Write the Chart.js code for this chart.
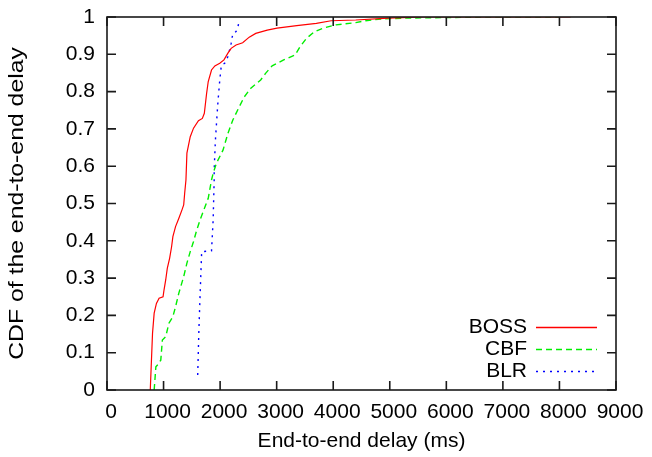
<!DOCTYPE html>
<html>
<head>
<meta charset="utf-8">
<script src="https://cdn.jsdelivr.net/npm/chart.js@4/dist/chart.umd.min.js"></script>
<style>
  html, body { margin: 0; padding: 0; background: #fff; }
  #wrap { width: 652px; height: 457px; }
</style>
</head>
<body>
<div id="wrap"><canvas id="c" width="652" height="457"></canvas></div>
<script>
// End-to-end delay CDF for three schemes
const bossDelay = [765, 805, 834, 874, 921, 991, 1008, 1038, 1066, 1107, 1142, 1165, 1212, 1269, 1326, 1356, 1373, 1396, 1413, 1472, 1530, 1617, 1686, 1721, 1761, 1790, 1848, 1907, 1994, 2068, 2138, 2195, 2282, 2399, 2515, 2630, 2833, 3007, 3355, 3702, 3963, 4398, 4971, 5600, 8200];
const bossCdf   = [0, 0.152, 0.206, 0.232, 0.246, 0.250, 0.268, 0.295, 0.326, 0.353, 0.384, 0.411, 0.438, 0.460, 0.483, 0.496, 0.527, 0.563, 0.635, 0.679, 0.702, 0.722, 0.728, 0.742, 0.795, 0.827, 0.858, 0.869, 0.876, 0.885, 0.903, 0.916, 0.925, 0.931, 0.946, 0.956, 0.965, 0.970, 0.977, 0.983, 0.990, 0.992, 0.997, 1.0, 1.0];

const cbfDelay = [834, 864, 892, 951, 979, 1038, 1095, 1165, 1212, 1269, 1356, 1413, 1472, 1530, 1587, 1646, 1733, 1790, 1848, 1877, 1935, 2051, 2138, 2225, 2341, 2428, 2543, 2717, 2804, 2920, 3124, 3325, 3412, 3529, 3673, 3819, 4050, 4398, 4571, 4862, 5267, 6800, 8000];
const cbfCdf   = [0, 0.062, 0.067, 0.080, 0.134, 0.143, 0.179, 0.197, 0.223, 0.259, 0.304, 0.340, 0.371, 0.398, 0.429, 0.456, 0.491, 0.514, 0.563, 0.581, 0.608, 0.643, 0.688, 0.724, 0.760, 0.786, 0.809, 0.831, 0.849, 0.869, 0.885, 0.898, 0.920, 0.943, 0.961, 0.970, 0.979, 0.985, 0.990, 0.995, 0.997, 1.0, 1.0];

const blrDelay = [1604, 1625, 1643, 1674, 1848, 1877, 1895, 1895, 1917, 1952, 1964, 1994, 2022, 2081, 2138, 2168, 2195, 2225, 2282, 2312, 2341];
const blrCdf   = [0.040, 0.161, 0.241, 0.371, 0.373, 0.456, 0.563, 0.590, 0.670, 0.751, 0.777, 0.831, 0.871, 0.876, 0.894, 0.912, 0.929, 0.956, 0.961, 0.971, 0.993];

const seriesNames = ['BOSS', 'CBF', 'BLR'];
const seriesColors = ['#ff0000', '#00ee00', '#0000ff'];
const xTickLabels = ['0', '1000', '2000', '3000', '4000', '5000', '6000', '7000', '8000', '9000'];
const yTickLabels = ['0', '0.1', '0.2', '0.3', '0.4', '0.5', '0.6', '0.7', '0.8', '0.9', '1'];
const xTitle = 'End-to-end delay (ms)';
const yTitle = 'CDF of the end-to-end delay';

const FONT = 'Liberation Sans, Arial, Helvetica, sans-serif';
const FSIZE = 21;
const toPoints = (xs, ys) => xs.map((x, i) => ({ x: x, y: ys[i] }));

// gnuplot-style frame with inward ticks on all four sides
const framePlugin = {
  id: 'frame',
  afterDatasetsDraw(chart) {
    const { ctx, chartArea: a, scales } = chart;
    const tl = 9;
    ctx.save();
    ctx.strokeStyle = '#1a1a1a';
    ctx.lineWidth = 1.6;
    ctx.strokeRect(a.left, a.top, a.right - a.left, a.bottom - a.top);
    ctx.beginPath();
    scales.x.ticks.forEach(t => {
      const px = scales.x.getPixelForValue(t.value);
      ctx.moveTo(px, a.bottom); ctx.lineTo(px, a.bottom - tl);
      ctx.moveTo(px, a.top); ctx.lineTo(px, a.top + tl);
    });
    scales.y.ticks.forEach(t => {
      const py = scales.y.getPixelForValue(t.value);
      ctx.moveTo(a.left, py); ctx.lineTo(a.left + tl, py);
      ctx.moveTo(a.right, py); ctx.lineTo(a.right - tl, py);
    });
    ctx.stroke();
    ctx.restore();
  }
};

// rotated y-axis caption, set with a wide stretch along the axis
const yTitlePlugin = {
  id: 'yTitle',
  afterDraw(chart) {
    const { ctx, chartArea: a } = chart;
    ctx.save();
    ctx.translate(17, (a.top + a.bottom) / 2);
    ctx.rotate(-Math.PI / 2);
    ctx.scale(1.18, 1);
    ctx.font = FSIZE + 'px ' + FONT;
    ctx.fillStyle = '#000';
    ctx.textAlign = 'center';
    ctx.textBaseline = 'middle';
    ctx.fillText(yTitle, 0, 0);
    ctx.restore();
  }
};

// key in the lower right: right-aligned names followed by line samples
const keyPlugin = {
  id: 'key',
  afterDraw(chart) {
    const { ctx } = chart;
    const textRight = 527, lineStart = 536, lineEnd = 597, top = 327, step = 22;
    ctx.save();
    ctx.font = FSIZE + 'px ' + FONT;
    ctx.textAlign = 'right';
    ctx.textBaseline = 'middle';
    chart.data.datasets.forEach((ds, i) => {
      const y = top + i * step;
      ctx.fillStyle = '#000';
      ctx.fillText(ds.label, textRight, y);
      ctx.strokeStyle = seriesColors[i];
      ctx.lineWidth = 1.4;
      ctx.setLineDash(ds.borderDash);
      ctx.beginPath();
      ctx.moveTo(lineStart, y + 0.5);
      ctx.lineTo(lineEnd, y + 0.5);
      ctx.stroke();
    });
    ctx.restore();
  }
};

new Chart(document.getElementById('c'), {
  type: 'line',
  data: {
    datasets: [
      { label: seriesNames[0], data: toPoints(bossDelay, bossCdf), borderColor: seriesColors[0], borderWidth: 1.2, borderDash: [] },
      { label: seriesNames[1], data: toPoints(cbfDelay, cbfCdf), borderColor: seriesColors[1], borderWidth: 1.4, borderDash: [6, 4] },
      { label: seriesNames[2], data: toPoints(blrDelay, blrCdf), borderColor: seriesColors[2], borderWidth: 1.4, borderDash: [2, 5] }
    ]
  },
  options: {
    responsive: false,
    animation: false,
    devicePixelRatio: 1,
    layout: { padding: { top: 17, right: 36, left: 0, bottom: 0 } },
    elements: { point: { radius: 0 }, line: { tension: 0, fill: false } },
    plugins: { legend: { display: false }, tooltip: { enabled: false } },
    scales: {
      x: {
        type: 'linear',
        min: 0, max: 9000,
        grid: { display: false, drawTicks: false },
        border: { display: false },
        afterFit: s => { s.height = 67; s.paddingLeft = 0; s.paddingRight = 0; },
        ticks: {
          stepSize: 1000, padding: 10, labelOffset: 4, color: '#000', maxRotation: 0, autoSkip: false,
          font: { family: FONT, size: FSIZE },
          callback: (v, i) => xTickLabels[i]
        },
        title: {
          display: true, text: xTitle, color: '#000',
          font: { family: FONT, size: FSIZE }, padding: { top: 0, bottom: 3 }
        }
      },
      y: {
        type: 'linear',
        min: 0, max: 1,
        grid: { display: false, drawTicks: false },
        border: { display: false },
        afterFit: s => { s.width = 107; s.paddingTop = 0; s.paddingBottom = 0; },
        ticks: {
          stepSize: 0.1, padding: 12, color: '#000', autoSkip: false,
          font: { family: FONT, size: FSIZE },
          callback: (v, i) => yTickLabels[i]
        },
        title: { display: false }
      }
    }
  },
  plugins: [framePlugin, yTitlePlugin, keyPlugin]
});
</script>
</body>
</html>
